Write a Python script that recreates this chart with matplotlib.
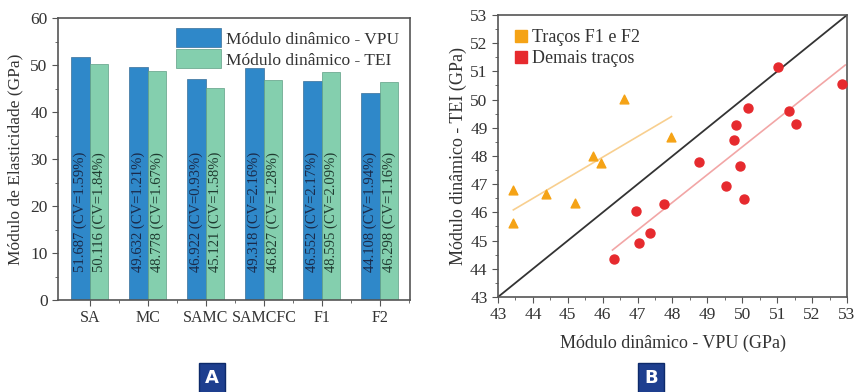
import numpy as np
import matplotlib
matplotlib.use("Agg")
import matplotlib.pyplot as plt
from matplotlib.ticker import MultipleLocator
from matplotlib.lines import Line2D

plt.rcParams['font.family'] = ['Liberation Serif', 'DejaVu Serif']

# --- painel A: modulo dinamico por traco
tracos = ["SA", "MC", "SAMC", "SAMCFC", "F1", "F2"]
vpu = [51.687, 49.632, 46.922, 49.318, 46.552, 44.108]
tei = [50.116, 48.778, 45.121, 46.827, 48.595, 46.298]
cv_vpu = ["1.59%", "1.21%", "0.93%", "2.16%", "2.17%", "1.94%"]
cv_tei = ["1.84%", "1.67%", "1.58%", "1.28%", "2.09%", "1.16%"]

# --- painel B: TEI x VPU
f_vpu = [43.44, 43.44, 44.38, 45.21, 45.73, 45.94, 46.62, 47.97]
f_tei = [46.79, 45.61, 46.65, 46.32, 48.01, 47.74, 50.02, 48.68]
d_vpu = [46.33, 46.95, 47.05, 47.36, 47.77, 49.53, 50.05, 48.77,
         49.93, 49.76, 49.82, 50.17, 51.02, 51.34, 51.53, 52.87]
d_tei = [44.34, 46.04, 44.93, 45.28, 46.30, 46.94, 46.49, 47.78,
         47.65, 48.57, 49.09, 49.71, 51.17, 49.60, 49.15, 50.55]

azul = "#2F88C9"
verde = "#84CFAE"
laranja = "#F5A316"
vermelho = "#E62A2E"
frame = "#555555"

fig = plt.figure(figsize=(8.58, 3.92), dpi=100)

# ---------------- A
ax = fig.add_axes([58/858, 92/392, 352/858, 282/392])
x = np.arange(len(tracos))
w = 0.32
ax.bar(x - w/2, vpu, w, color=azul, edgecolor="#3a6f99", linewidth=0.5, label="Módulo dinâmico - VPU")
ax.bar(x + w/2, tei, w, color=verde, edgecolor="#5f9f85", linewidth=0.5, label="Módulo dinâmico - TEI")
for i in range(len(tracos)):
    ax.text(x[i] - w/2, 6, "%.3f (CV=%s)" % (vpu[i], cv_vpu[i]), rotation=90,
            ha="center", va="bottom", fontsize=10.5, color="#1a2a4a")
    ax.text(x[i] + w/2, 6, "%.3f (CV=%s)" % (tei[i], cv_tei[i]), rotation=90,
            ha="center", va="bottom", fontsize=10.5, color="#1f3a30")
ax.set_xlim(-0.55, 5.52)
ax.set_ylim(0, 60)
ax.set_xticks(x)
ax.set_xticklabels(tracos)
ax.set_xticks(x + 0.5, minor=True)
ax.yaxis.set_major_locator(MultipleLocator(10))
ax.yaxis.set_minor_locator(MultipleLocator(5))
ax.tick_params(axis="both", which="major", labelsize=12.5, length=4, color=frame, labelcolor="#333333")
ax.tick_params(axis="x", which="major", labelsize=11.5)
ax.tick_params(axis="both", which="minor", length=2, color=frame)
ax.set_ylabel("Módulo de Elasticidade (GPa)", fontsize=12.5, color="#333333", labelpad=5)
for s in ax.spines.values():
    s.set_color(frame)
    s.set_linewidth(1.2)
ax.legend(loc="upper right", fontsize=12.5, frameon=False, handlelength=2.6, handleheight=1.3,
          borderaxespad=0.2, handletextpad=0.3, labelspacing=0.1, labelcolor="#333333")

# ---------------- B
bx = fig.add_axes([498/858, 95/392, 349/858, 282/392])
bx.plot([43, 53], [43, 53], color="#333333", lw=1.3)
cf = np.polyfit(f_vpu, f_tei, 1)
xf = np.array([min(f_vpu), max(f_vpu)])
bx.plot(xf, np.polyval(cf, xf), color="#F8CF8F", lw=1.2)
cd = np.polyfit(d_vpu, d_tei, 1)
xd = np.array([min(d_vpu) - 0.05, 52.95])
bx.plot(xd, np.polyval(cd, xd), color="#F2A6A6", lw=1.2)
bx.scatter(f_vpu, f_tei, marker="^", s=40, color=laranja, zorder=3)
bx.scatter(d_vpu, d_tei, marker="o", s=42, color=vermelho, zorder=3)
bx.set_xlim(43, 53)
bx.set_ylim(43, 53)
bx.xaxis.set_major_locator(MultipleLocator(1))
bx.yaxis.set_major_locator(MultipleLocator(1))
bx.xaxis.set_minor_locator(MultipleLocator(0.5))
bx.yaxis.set_minor_locator(MultipleLocator(0.5))
bx.tick_params(axis="both", which="major", labelsize=12.5, length=4, color=frame, labelcolor="#333333")
bx.tick_params(axis="both", which="minor", length=2, color=frame)
bx.set_xlabel("Módulo dinâmico - VPU (GPa)", fontsize=13, color="#333333", labelpad=8)
bx.set_ylabel("Módulo dinâmico - TEI (GPa)", fontsize=13, color="#333333", labelpad=2)
for s in bx.spines.values():
    s.set_color(frame)
    s.set_linewidth(1.2)
hand = [Line2D([], [], marker="s", ls="", color=laranja, markersize=9),
        Line2D([], [], marker="s", ls="", color=vermelho, markersize=9)]
bx.legend(hand, ["Traços F1 e F2", "Demais traços"], loc="upper left", fontsize=13,
          frameon=False, handletextpad=0.1, handlelength=1.0, labelspacing=0.2,
          borderaxespad=0.4, labelcolor="#333333")

# rotulos A e B
for xc, t in [(212, "A"), (651, "B")]:
    fig.text(xc/858, 14/392, t, ha="center", va="center", fontsize=13, color="white",
             fontweight="bold", family="DejaVu Sans",
             bbox=dict(boxstyle="square,pad=0.35", fc="#1E3F8F", ec="#0d2a6a"))

fig.savefig("out.png", dpi=100)
